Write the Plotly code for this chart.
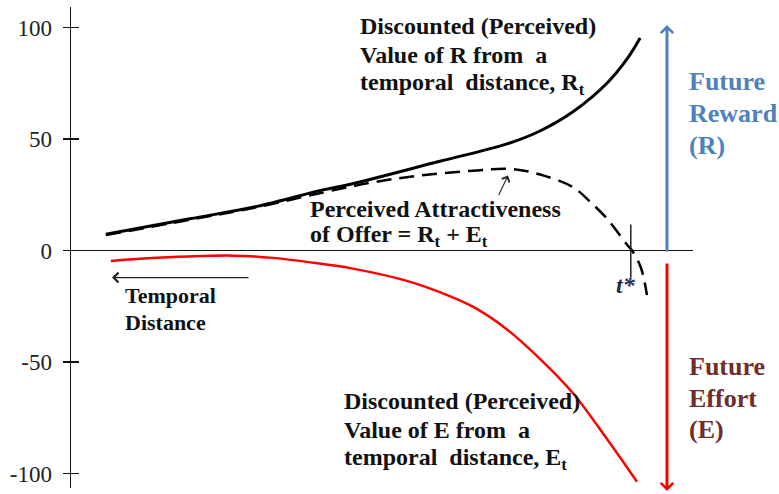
import plotly.graph_objects as go

# ---------------- data ----------------
reward_t = [5.6, 19.1, 29.9, 40.5, 44.9, 59.3, 70.1, 75.4, 80.7, 86.2, 89.4, 91.5]
reward_v = [7.3, 14.2, 19.8, 27.2, 29.7, 40.0, 47.8, 53.6, 62.2, 75.1, 85.9, 95.3]

attract_t = [5.6, 19.1, 29.9, 40.5, 48.6, 56.1, 64.6, 70.6, 75.4, 80.7, 83.4, 86.2, 89.4, 90.2, 91.6, 92.6]
attract_v = [6.9, 13.8, 19.4, 26.0, 30.6, 33.6, 35.8, 36.6, 34.1, 28.4, 22.0, 14.2, 2.6, 0.0, -7.5, -20.0]

effort_t = [6.4, 13.8, 26.0, 32.5, 40.5, 44.9, 54.0, 59.3, 64.6, 70.1, 75.4, 80.7, 86.2, 91.0]
effort_v = [-4.7, -3.3, -2.3, -3.3, -6.1, -7.9, -13.6, -18.7, -25.2, -35.4, -48.6, -64.0, -84.6, -103.7]

y_ticks = [-100, -50, 0, 50, 100]
t_star = 90.0

# ---------------- layout geometry ----------------
W, H = 779, 494
L, R, T, B = 71, 86, 7, 6
X_RANGE = [0, 100]
Y_RANGE = [-106.5, 109.2]
SERIF = "Liberation Serif, Times New Roman, serif"


def xr(px):
    return X_RANGE[0] + (px - L) / (W - L - R) * (X_RANGE[1] - X_RANGE[0])


def yr(py):
    return Y_RANGE[1] - (py - T) / (H - T - B) * (Y_RANGE[1] - Y_RANGE[0])


fig = go.Figure()

fig.add_trace(go.Scatter(x=reward_t, y=reward_v, mode="lines",
                         line=dict(color="black", width=3, shape="spline", smoothing=1.0),
                         hoverinfo="skip"))
fig.add_trace(go.Scatter(x=attract_t, y=attract_v, mode="lines",
                         line=dict(color="black", width=2.5, dash="15px,8px", shape="spline", smoothing=1.0),
                         hoverinfo="skip"))
fig.add_trace(go.Scatter(x=effort_t, y=effort_v, mode="lines",
                         line=dict(color="#ff0000", width=2.5, shape="spline", smoothing=1.0),
                         hoverinfo="skip"))
# empty trace driving the overlay axis (ticks crossing the axis line)
fig.add_trace(go.Scatter(x=[None], y=[None], yaxis="y2", showlegend=False, hoverinfo="skip"))

annotations = []


def add_lines(lines, px, baselines, size, color, bold=True, shift=0.0):
    for txt, by in zip(lines, baselines):
        t = f"<b>{txt}</b>" if bold else txt
        annotations.append(dict(
            x=xr(px), y=yr(by + shift - 0.32 * size), xref="x", yref="y",
            text=t, showarrow=False, xanchor="left", yanchor="middle",
            align="left", font=dict(family=SERIF, size=size, color=color)))


DARK = "#111111"
AX_SHIFT = -5.4  # keep items near the horizontal axis aligned to it

add_lines(["Discounted (Perceived)", "Value of R from&nbsp; a",
           "temporal&nbsp; distance, R<sub>t</sub>"],
          358, [34, 63, 92], 24, DARK)
add_lines(["Perceived Attractiveness", "of Offer = R<sub>t</sub> + E<sub>t</sub>"],
          308, [222, 249], 24, DARK, shift=AX_SHIFT)
add_lines(["Temporal", "Distance"], 123, [308, 335], 22, DARK, shift=AX_SHIFT)
add_lines(["Discounted (Perceived)", "Value of E from&nbsp; a",
           "temporal&nbsp; distance, E<sub>t</sub>"],
          342, [409, 438, 467], 24, DARK)
add_lines(["Future", "Reward", "(R)"], 687, [90, 122, 154], 26, "#4f81bd")
add_lines(["Future", "Effort", "(E)"], 687, [375, 407, 438], 26, "#6e2e2c")

# t* label
annotations.append(dict(x=xr(626), y=yr(290 + AX_SHIFT), xref="x", yref="y",
                        text="<b><i>t*</i></b>", showarrow=False, xanchor="center",
                        yanchor="middle", font=dict(family=SERIF, size=24, color="#1f2d50")))

# arrows
annotations.append(dict(x=xr(667), y=yr(25), ax=xr(667), ay=yr(253), xref="x", yref="y",
                        axref="x", ayref="y", text="", showarrow=True, arrowhead=4,
                        arrowsize=0.8, arrowwidth=3, arrowcolor="#4f81bd"))
annotations.append(dict(x=xr(667), y=yr(491), ax=xr(667), ay=yr(262), xref="x", yref="y",
                        axref="x", ayref="y", text="", showarrow=True, arrowhead=4,
                        arrowsize=0.8, arrowwidth=3, arrowcolor="#ff0000"))
annotations.append(dict(x=xr(112), y=yr(283 + AX_SHIFT), ax=xr(250), ay=yr(283 + AX_SHIFT),
                        xref="x", yref="y", axref="x", ayref="y", text="", showarrow=True,
                        arrowhead=4, arrowsize=1.6, arrowwidth=1.2, arrowcolor="#222222"))
annotations.append(dict(x=xr(508), y=yr(181 + AX_SHIFT), ax=xr(498), ay=yr(202 + AX_SHIFT),
                        xref="x", yref="y", axref="x", ayref="y", text="", showarrow=True,
                        arrowhead=4, arrowsize=1.5, arrowwidth=1.1, arrowcolor="#222222"))

shapes = [dict(type="line", xref="x", yref="y", x0=t_star, x1=t_star,
               y0=yr(230 + AX_SHIFT), y1=yr(283 + AX_SHIFT),
               line=dict(color="#222222", width=1.5))]

fig.update_layout(
    width=W, height=H, autosize=False,
    margin=dict(l=L, r=R, t=T, b=B, pad=0),
    paper_bgcolor="white", plot_bgcolor="white",
    showlegend=False,
    xaxis=dict(range=X_RANGE, visible=False, fixedrange=True),
    yaxis=dict(range=Y_RANGE, tickvals=y_ticks, ticktext=[str(v) for v in y_ticks],
               showgrid=False, zeroline=True, zerolinecolor="#111111", zerolinewidth=1.3,
               showline=True, linecolor="#111111", linewidth=1.5,
               ticks="outside", ticklen=7, tickwidth=1.5, tickcolor="#111111",
               ticklabelstandoff=6, automargin=False,
               tickfont=dict(family=SERIF, size=23, color="#222222")),
    yaxis2=dict(range=Y_RANGE, overlaying="y", side="left", anchor="x",
                tickvals=y_ticks, showticklabels=False, showgrid=False, zeroline=False,
                showline=False, ticks="inside", ticklen=8, tickwidth=1.5, tickcolor="#111111"),
    annotations=annotations,
    shapes=shapes,
)

fig.write_html("out.html", config={"displayModeBar": False, "staticPlot": True},
               post_script="document.body.style.margin='0';document.body.style.padding='0';")
